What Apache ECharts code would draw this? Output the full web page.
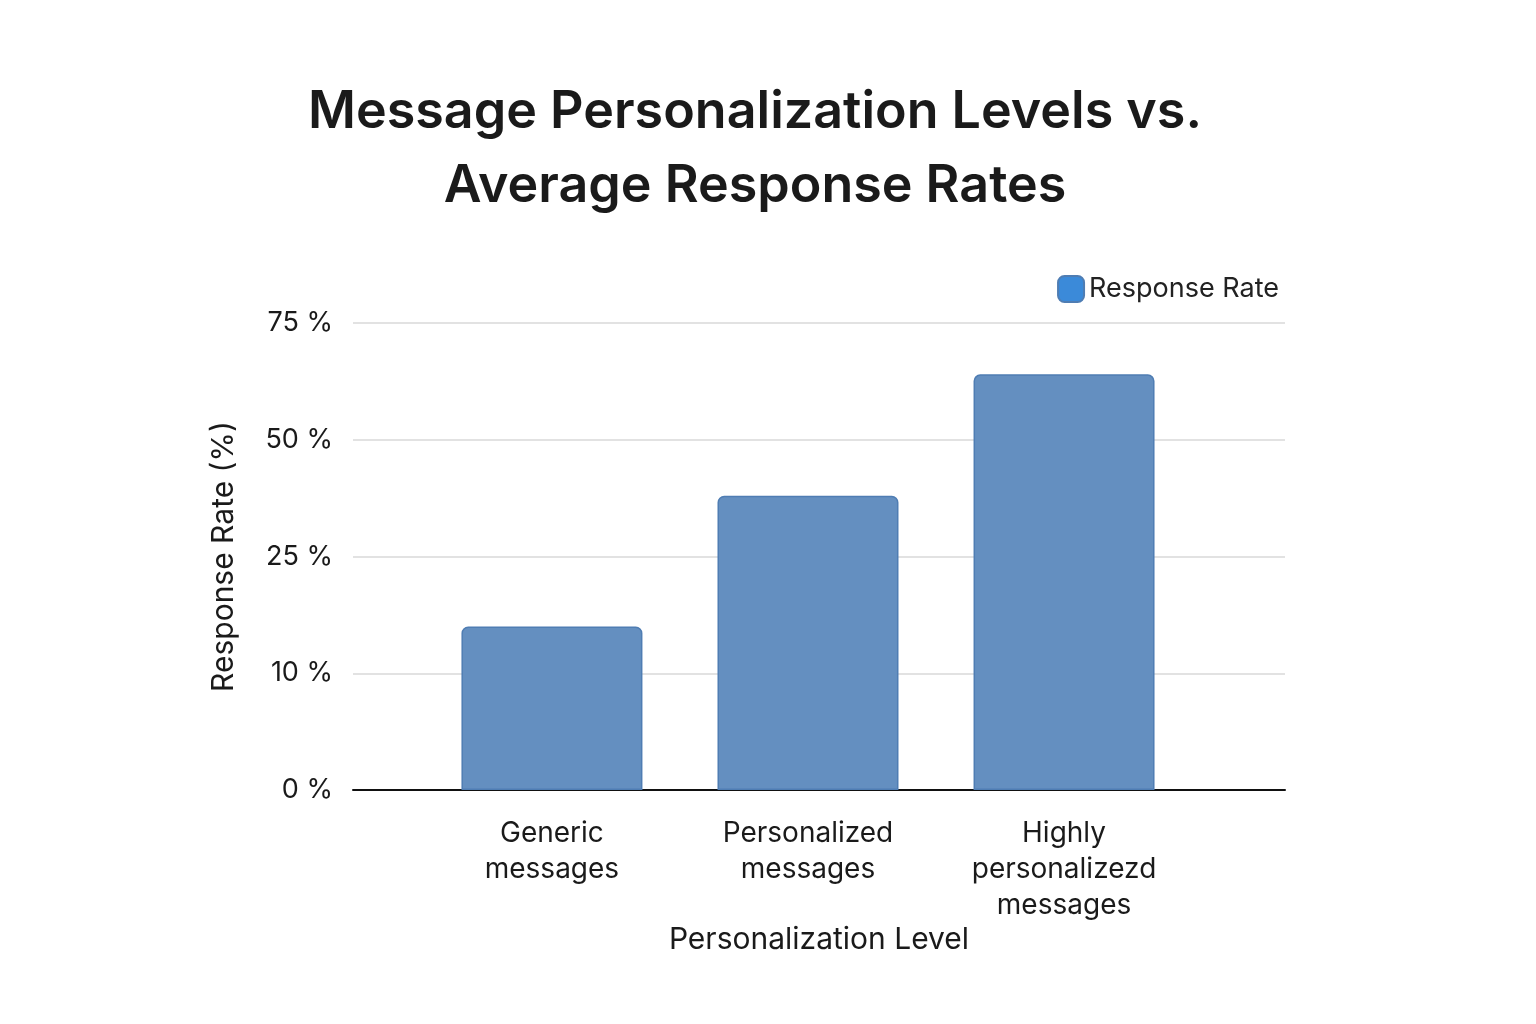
<!DOCTYPE html>
<html>
<head>
<meta charset="utf-8">
<script src="https://cdn.jsdelivr.net/npm/echarts@6/dist/echarts.min.js"></script>
<style>html,body{margin:0;padding:0;background:#fff}#chart{width:1536px;height:1024px}</style>
</head>
<body>
<div id="chart"></div>
<script>
// data
var categories = ['Generic\nmessages', 'Personalized\nmessages', 'Highly\npersonalizezd\nmessages'];
var responseRates = [16, 38, 64];
var tickLabels = ['0 %', '10 %', '25 %', '50 %', '75 %'];
var tickValues = [0, 10, 25, 50, 75];

// the y axis is evenly spaced at uneven values, so map a rate to its step position
function toStep(v) {
    for (var i = 1; i < tickValues.length; i++) {
        if (v <= tickValues[i]) {
            return (i - 1) + (v - tickValues[i - 1]) / (tickValues[i] - tickValues[i - 1]);
        }
    }
    return tickValues.length - 1;
}

var barData = [];
for (var i = 0; i < categories.length; i++) {
    barData.push([i, toStep(responseRates[i])]);
}

var font = 'Inter, "Noto Sans", sans-serif';
var chart = echarts.init(document.getElementById('chart'));
chart.setOption({
    backgroundColor: '#fff',
    textStyle: {fontFamily: font},
    title: {
        text: 'Message Personalization Levels vs.\nAverage Response Rates',
        left: 750, top: 70, textAlign: 'center',
        textStyle: {fontSize: 52, fontWeight: 600, color: '#1a1a1a', lineHeight: 74, fontFamily: font}
    },
    legend: {
        data: ['Response Rate'], right: 252, top: 270,
        itemWidth: 26, itemHeight: 26, itemGap: 10,
        textStyle: {fontSize: 27, color: '#222', fontFamily: font},
        itemStyle: {color: '#3b8ad9', borderRadius: 4}
    },
    grid: {left: 353, right: 251, top: 323, bottom: 234},
    xAxis: {
        type: 'value', min: -0.777, max: 2.863,
        name: 'Personalization Level', nameLocation: 'middle', nameGap: 134,
        nameTextStyle: {fontSize: 30, color: '#1a1a1a'},
        axisLine: {show: true, lineStyle: {color: '#111', width: 2}},
        axisTick: {show: false},
        splitLine: {show: false},
        axisLabel: {
            customValues: [0, 1, 2], fontSize: 28, color: '#1a1a1a', lineHeight: 36, margin: 26,
            formatter: function (v) { return categories[Math.round(v)]; }
        }
    },
    yAxis: {
        type: 'value', min: 0, max: 4, interval: 1,
        name: 'Response Rate (%)', nameLocation: 'middle', nameGap: 114, nameRotate: 90,
        nameTextStyle: {fontSize: 30, color: '#1a1a1a'},
        axisLine: {show: false}, axisTick: {show: false},
        splitLine: {lineStyle: {color: '#d9d9d9', width: 1.5}},
        axisLabel: {
            fontSize: 27, color: '#1a1a1a', margin: 20,
            formatter: function (v) { return tickLabels[v]; }
        }
    },
    series: [{
        name: 'Response Rate', type: 'bar', barWidth: 181,
        data: barData,
        itemStyle: {color: '#648fc0', borderColor: '#4f7db3', borderWidth: 1.5, borderRadius: [6, 6, 0, 0]}
    }]
});
</script>
</body>
</html>
